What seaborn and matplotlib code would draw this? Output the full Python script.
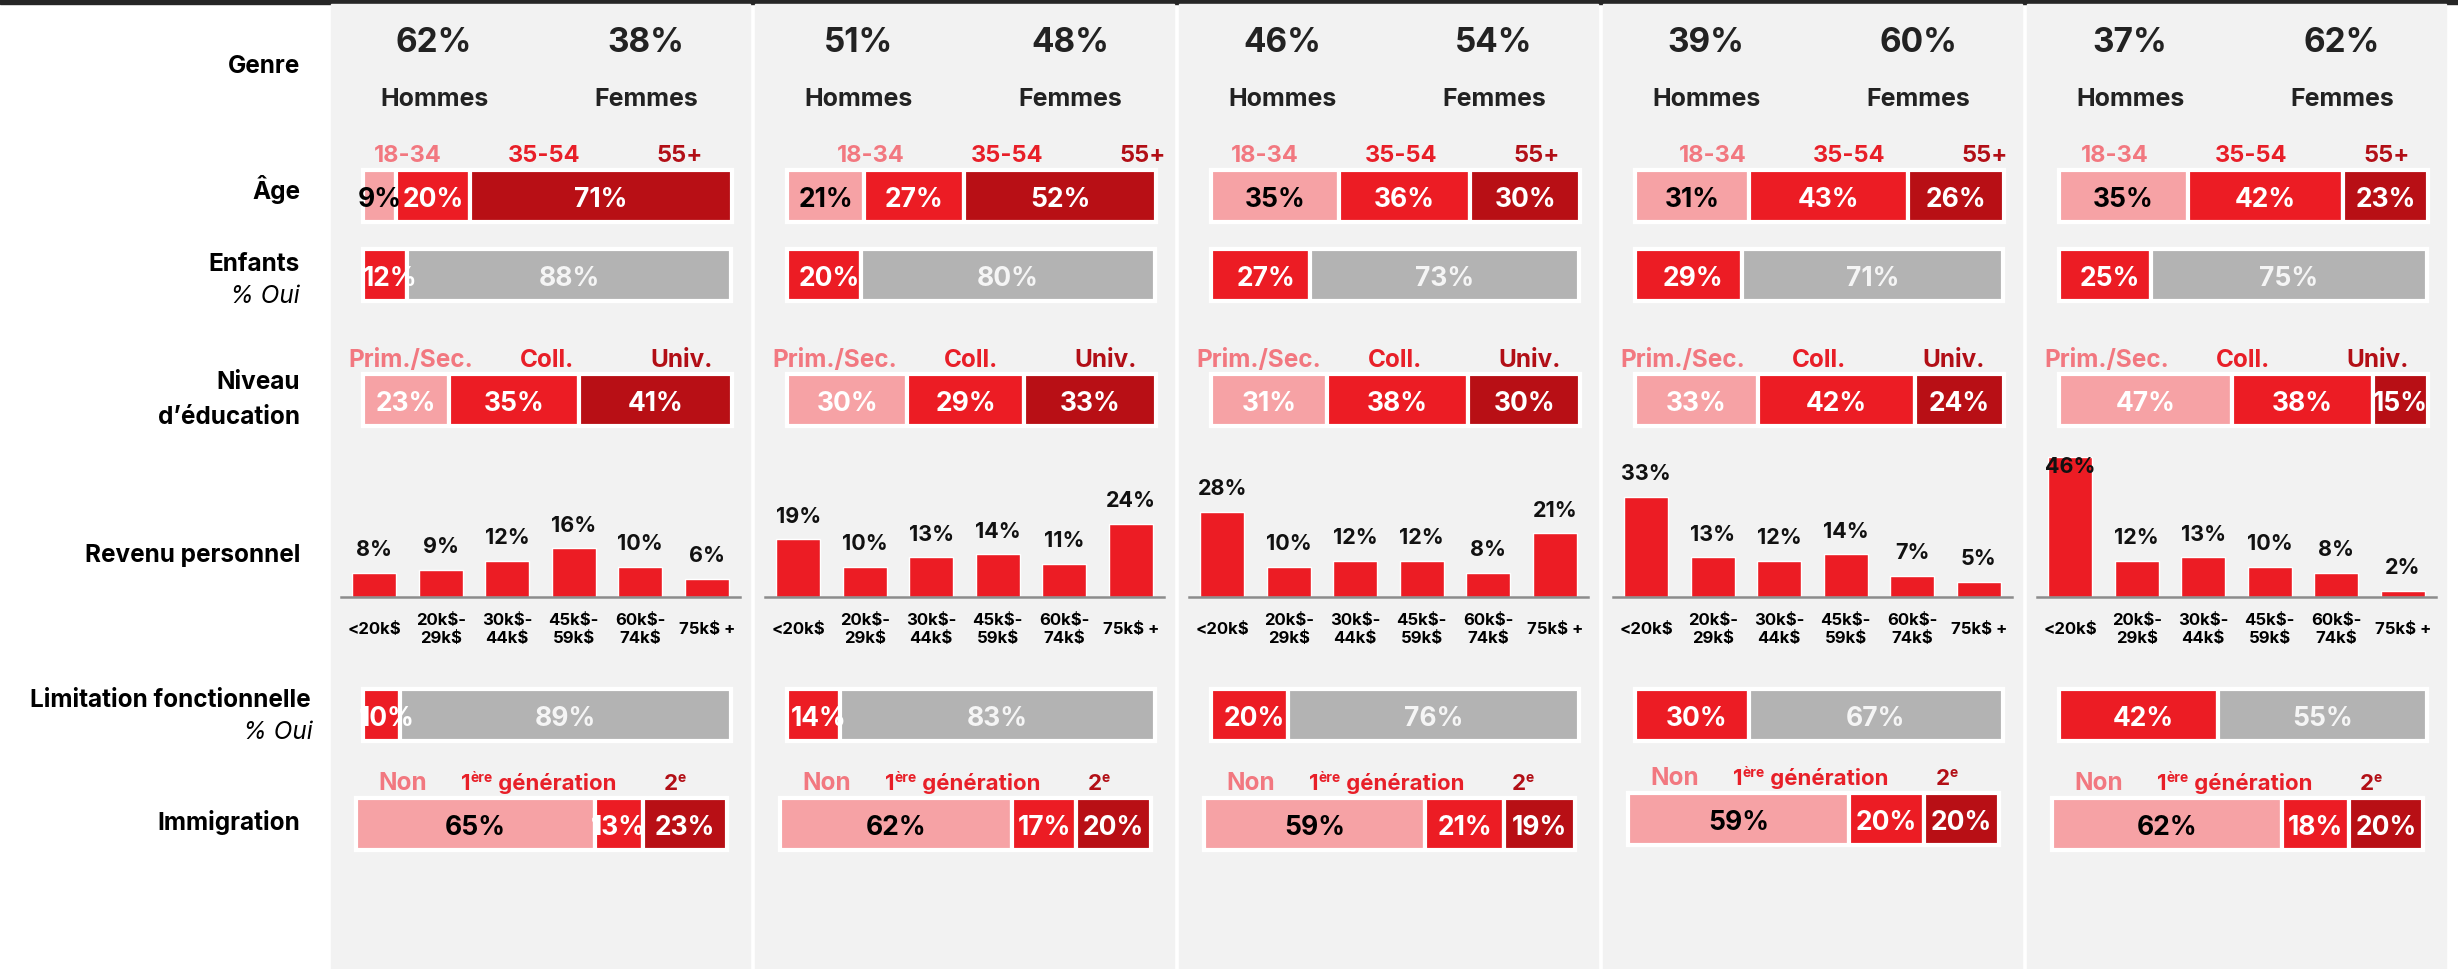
import matplotlib
matplotlib.use("Agg")
import matplotlib.pyplot as plt
import matplotlib.transforms as mtransforms
from matplotlib.patches import Rectangle
import seaborn as sns

# ---------------------------------------------------------------- data
men = [62, 51, 46, 39, 37]
women = [38, 48, 54, 60, 62]

age_labels = ["18-34", "35-54", "55+"]
age_18_34 = [9, 21, 35, 31, 35]
age_35_54 = [20, 27, 36, 43, 42]
age_55_plus = [71, 52, 30, 26, 23]

kids_yes = [12, 20, 27, 29, 25]
kids_no = [88, 80, 73, 71, 75]

edu_labels = ["Prim./Sec.", "Coll.", "Univ."]
edu_prim_sec = [23, 30, 31, 33, 47]
edu_coll = [35, 29, 38, 42, 38]
edu_univ = [41, 33, 30, 24, 15]

income_labels = ["<20k$", "20k$-\n29k$", "30k$-\n44k$", "45k$-\n59k$", "60k$-\n74k$", "75k$ +"]
income_1 = [8, 9, 12, 16, 10, 6]
income_2 = [19, 10, 13, 14, 11, 24]
income_3 = [28, 10, 12, 12, 8, 21]
income_4 = [33, 13, 12, 14, 7, 5]
income_5 = [46, 12, 13, 10, 8, 2]

limit_yes = [10, 14, 20, 30, 42]
limit_no = [89, 83, 76, 67, 55]

immig_non = [65, 62, 59, 59, 62]
immig_first = [13, 17, 21, 20, 18]
immig_second = [23, 20, 19, 20, 20]

row_labels = ["Genre", "Âge", "Enfants", "Niveau", "d’éducation",
              "Revenu personnel", "Limitation fonctionnelle", "Immigration"]

# ---------------------------------------------------------------- style
W, H, DPI = 2458, 970, 100
sns.set_theme(style="white")
FONT = ["Inter", "DejaVu Sans"]
plt.rcParams["font.family"] = FONT

PANEL_BG = "#f2f2f2"
PINK, RED, DARK, GRAY = "#f6a2a5", "#ec1c24", "#b80f15", "#b3b3b3"
PINK_TXT, RED_TXT, DARK_TXT = "#f27880", "#e81f28", "#b20f16"
INK = "#222222"

fig = plt.figure(figsize=(W / DPI, H / DPI), dpi=DPI)
fig.patch.set_facecolor("white")
PX = mtransforms.Affine2D().scale(1 / W, -1 / H).translate(0, 1) + fig.transFigure


def px_axes(x0, y0, x1, y1):
    ax = fig.add_axes([x0 / W, 1 - y1 / H, (x1 - x0) / W, (y1 - y0) / H])
    ax.patch.set_alpha(0)
    return ax


def ftext(x, y, s, **kw):
    kw.setdefault("fontweight", "bold")
    kw.setdefault("va", "baseline")
    return fig.text(x, y, s, transform=PX, **kw)


# background: dark top band and one light panel per segment
fig.patches.append(Rectangle((0, 0), W, 5, transform=PX, color="#262626", zorder=-2))
PANEL_X0, PANEL_STEP, PANEL_W = 331, 424, 419
for p in range(5):
    fig.patches.append(Rectangle((PANEL_X0 + p * PANEL_STEP, 5), PANEL_W, H,
                                 transform=PX, color=PANEL_BG, zorder=-2))

# left-hand row titles
LBL = dict(fontsize=17.5, ha="right", color="black")
ITAL = dict(fontsize=17.5, ha="right", fontweight="normal", style="italic", color="black")
ftext(300, 73, row_labels[0], **LBL)
ftext(300, 199, row_labels[1], **LBL)
ftext(300, 271, row_labels[2], **LBL)
ftext(300, 303, "% Oui", **ITAL)
ftext(300, 389, row_labels[3], **LBL)
ftext(300, 424, row_labels[4], **LBL)
ftext(300, 562, row_labels[5], **LBL)
ftext(311, 707, row_labels[6], **LBL)
ftext(313, 739, "% Oui", **ITAL)
ftext(300, 830, row_labels[7], **LBL)


def stacked(x0, y0, x1, y1, vals, colors, txt_colors, first_shift=0):
    ax = px_axes(x0, y0, x1, y1)
    left = 0
    for k, (v, c, tc) in enumerate(zip(vals, colors, txt_colors)):
        ax.barh(0, v, left=left, height=1, color=c, edgecolor="white",
                linewidth=3, clip_on=False)
        tr = ax.transData
        if k == 0 and first_shift:
            tr = mtransforms.offset_copy(ax.transData, fig, x=first_shift, units="dots")
        ax.text(left + v / 2, -0.19, f"{v}%", ha="center", va="baseline",
                color=tc, fontsize=19, fontweight="bold", clip_on=False, transform=tr)
        left += v
    ax.set_xlim(0, sum(vals))
    ax.set_ylim(-0.5, 0.5)
    ax.axis("off")
    return ax


renderer = fig.canvas.get_renderer()


def sup_label(xc, y, base, sup, rest, color, size=16, sup_size=10, rise=8):
    parts = [(base, size, 0), (sup, sup_size, rise), (rest, size, 0)]
    texts, x = [], 0
    for s, fs, dy in parts:
        if not s:
            continue
        t = ftext(x, y - dy, s, fontsize=fs, color=color, ha="left")
        w = t.get_window_extent(renderer).width
        texts.append((t, x))
        x += w
    shift = xc - x / 2
    for t, x_left in texts:
        t.set_x(x_left + shift)


incomes = [income_1, income_2, income_3, income_4, income_5]
age_lbl_x0 = [77, 116, 86, 110, 88]
imm_dy = [0, 0, 0, -5, 0]

for p in range(5):
    x0 = PANEL_X0 + p * PANEL_STEP

    # gender
    ftext(x0 + 103, 52, f"{men[p]}%", fontsize=24, ha="center", color=INK)
    ftext(x0 + 315, 52, f"{women[p]}%", fontsize=24, ha="center", color=INK)
    ftext(x0 + 103, 106, "Hommes", fontsize=18, ha="center", color=INK)
    ftext(x0 + 315, 106, "Femmes", fontsize=18, ha="center", color=INK)

    # age
    for k, (lab, c) in enumerate(zip(age_labels, (PINK_TXT, RED_TXT, DARK_TXT))):
        ftext(x0 + age_lbl_x0[p] + 136 * k, 162, lab, fontsize=17, ha="center", color=c)
    stacked(x0 + 32, 171, x0 + 401, 223,
            [age_18_34[p], age_35_54[p], age_55_plus[p]],
            [PINK, RED, DARK], ["black", "white", "white"])

    # children
    stacked(x0 + 32, 250, x0 + 400, 302, [kids_yes[p], kids_no[p]],
            [RED, GRAY], ["white", "#f5f5f5"], first_shift=5)

    # education
    for lab, dx, c in zip(edu_labels, (80, 216, 351), (PINK_TXT, RED_TXT, DARK_TXT)):
        ftext(x0 + dx, 367, lab, fontsize=17.5, ha="center", color=c)
    stacked(x0 + 32, 375, x0 + 401, 427,
            [edu_prim_sec[p], edu_coll[p], edu_univ[p]],
            [PINK, RED, DARK], ["white", "white", "white"])

    # personal income
    ax = px_axes(x0 + 10, 446, x0 + 409, 598)
    vals = incomes[p]
    sns.barplot(x=income_labels, y=vals, color=RED, saturation=1, width=0.66, ax=ax)
    for i, v in enumerate(vals):
        ax.text(i, min(v + 5.8, 41.1), f"{v}%", ha="center", va="baseline",
                fontsize=15.5, fontweight="bold", color="#111111")
    ax.set_xlim(-0.5, 5.5)
    ax.set_ylim(0, 50)
    ax.set_yticks([])
    ax.set_xlabel("")
    ax.set_ylabel("")
    for side in ("top", "left", "right"):
        ax.spines[side].set_visible(False)
    ax.spines["bottom"].set_color("#8c8c8c")
    ax.spines["bottom"].set_linewidth(1.8)
    ax.tick_params(axis="x", length=0, pad=23)
    ax.set_xticks(range(len(income_labels)))
    ax.set_xticklabels(income_labels, fontsize=12, fontweight="bold",
                       color="black", linespacing=1.25)
    for lab in ax.get_xticklabels():
        lab.set_va("center")

    # functional limitation
    stacked(x0 + 32, 690, x0 + 400, 742, [limit_yes[p], limit_no[p]],
            [RED, GRAY], ["white", "#f5f5f5"], first_shift=5)

    # immigration
    dy = imm_dy[p]
    ftext(x0 + 72, 790 + dy, "Non", fontsize=17.5, ha="center", color=PINK_TXT)
    sup_label(x0 + 208, 790 + dy, "1", "ère", " génération", RED_TXT)
    sup_label(x0 + 344, 790 + dy, "2", "e", "", DARK_TXT)
    stacked(x0 + 25, 799 + dy, x0 + 396, 851 + dy,
            [immig_non[p], immig_first[p], immig_second[p]],
            [PINK, RED, DARK], ["black", "white", "white"])

fig.savefig("out.png", dpi=DPI, facecolor="white")
